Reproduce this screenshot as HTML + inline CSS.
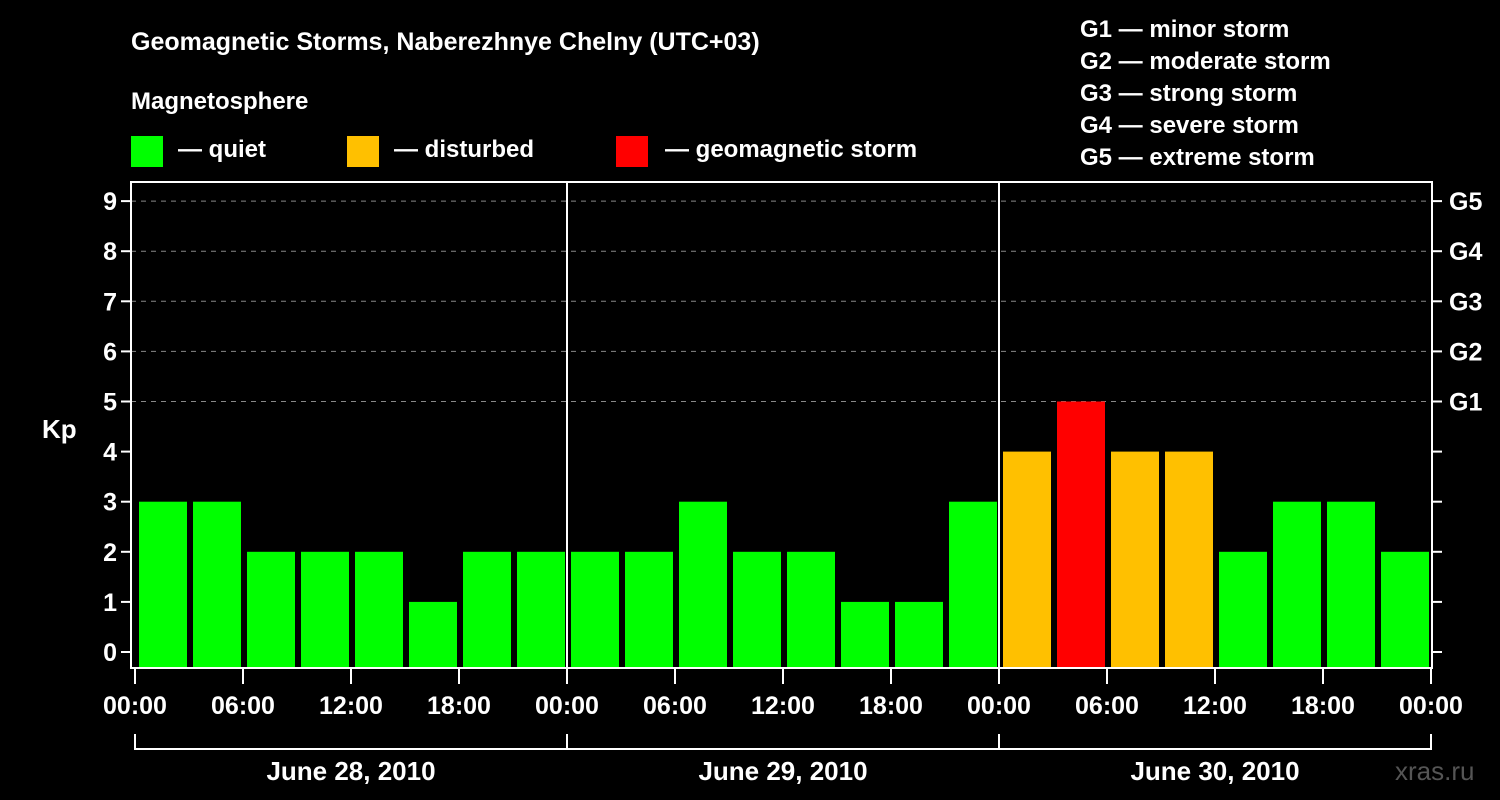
<!DOCTYPE html>
<html><head><meta charset="utf-8"><style>
body{margin:0;background:#000;width:1500px;height:800px;overflow:hidden}
svg{display:block;font-family:"Liberation Sans",Arial,sans-serif;font-weight:bold}
</style></head><body>
<svg id="c" width="1500" height="800">
<text x="131" y="50" fill="#fff" font-size="25">Geomagnetic Storms, Naberezhnye Chelny (UTC+03)</text>
<text x="131" y="109" fill="#fff" font-size="24">Magnetosphere</text>
<g><rect x="131" y="136" width="32" height="31" fill="#00ff00"/><text x="178" y="157" fill="#fff" font-size="24">— quiet</text></g>
<g><rect x="347" y="136" width="32" height="31" fill="#ffc000"/><text x="394" y="157" fill="#fff" font-size="24">— disturbed</text></g>
<g><rect x="616" y="136" width="32" height="31" fill="#ff0000"/><text x="665" y="157" fill="#fff" font-size="24">— geomagnetic storm</text></g>
<g fill="#fff" font-size="24">
<text x="1080" y="37">G1 — minor storm</text>
<text x="1080" y="69">G2 — moderate storm</text>
<text x="1080" y="101">G3 — strong storm</text>
<text x="1080" y="133">G4 — severe storm</text>
<text x="1080" y="165">G5 — extreme storm</text>
</g>
<text x="42" y="438" fill="#fff" font-size="26">Kp</text>
<text x="1395" y="780" fill="#555" font-size="26" font-weight="normal">xras.ru</text>
<g id="grid"></g><g id="bars"></g><g id="axes"></g>
</svg>
<script>
const kpValues=[3,3,2,2,2,1,2,2, 2,2,3,2,2,1,1,3, 4,5,4,4,2,3,3,2];
const dayLabels=["June 28, 2010","June 29, 2010","June 30, 2010"];
const hourLabels=["00:00","06:00","12:00","18:00"];
const yTicks=[0,1,2,3,4,5,6,7,8,9];
const gLabels=["G1","G2","G3","G4","G5"];
const NS="http://www.w3.org/2000/svg";
const L=131,R=1432,T=182,B=668,X0=135,DAY=432;
const y=v=>652-v*50.1;
const x=h=>X0+h*DAY/24;
function mk(tag,attrs,parent,txt){const e=document.createElementNS(NS,tag);for(const k in attrs)e.setAttribute(k,attrs[k]);if(txt!==undefined)e.textContent=txt;document.getElementById(parent).appendChild(e);return e;}
// grid
yTicks.forEach(v=>{
 if(v>=5){const g=mk('line',{x1:L,x2:R,y1:y(v),y2:y(v),stroke:'#888','stroke-dasharray':'5,5','stroke-width':1},'grid');
 
 }
 const t=mk('line',{x1:L-10,x2:L,y1:y(v),y2:y(v),stroke:'#fff','stroke-width':2},'axes');
 const t2=mk('line',{x1:R,x2:R+10,y1:y(v),y2:y(v),stroke:'#fff','stroke-width':2},'axes');
 const lb=mk('text',{x:L-14,y:y(v)+9,fill:'#fff','font-size':25,'text-anchor':'end'},'axes',String(v));
 
 
});
gLabels.forEach((g,i)=>{
 const lb=mk('text',{x:1449,y:y(5+i)+9,fill:'#fff','font-size':25},'axes',g);
 
 
});
// bars
kpValues.forEach((v,i)=>{
 const col=v>=5?'#ff0000':(v>=4?'#ffc000':'#00ff00');
 const r=mk('rect',{x:x(i*3)+4,y:y(v),width:48,height:B-1-y(v),fill:col},'bars');
 
 
});
// frame
mk('rect',{x:L,y:T,width:R-L,height:B-T,fill:'none',stroke:'#fff','stroke-width':2},'axes');
for(let d=1;d<dayLabels.length;d++){mk('line',{x1:x(d*24),x2:x(d*24),y1:T,y2:B,stroke:'#fff','stroke-width':2},'axes');}
// x ticks
for(let d=0;d<=dayLabels.length;d++){
 const n=d<dayLabels.length?hourLabels.length:1;
 for(let k=0;k<n;k++){
  const h=d*24+k*6;
  mk('line',{x1:x(h),x2:x(h),y1:B,y2:B+16,stroke:'#fff','stroke-width':2},'axes');
  const lb=mk('text',{x:x(h),y:714,fill:'#fff','font-size':25,'text-anchor':'middle'},'axes',hourLabels[k]);
  
  
 }
}
mk('line',{x1:x(0),x2:x(72),y1:749,y2:749,stroke:'#fff','stroke-width':2},'axes');
for(let d=0;d<=dayLabels.length;d++)mk('line',{x1:x(d*24),x2:x(d*24),y1:734,y2:750,stroke:'#fff','stroke-width':2},'axes');
dayLabels.forEach((s,d)=>{
 const lb=mk('text',{x:x(d*24+12),y:780,fill:'#fff','font-size':26,'text-anchor':'middle'},'axes',s);
 
 
});
</script>
</body></html>
